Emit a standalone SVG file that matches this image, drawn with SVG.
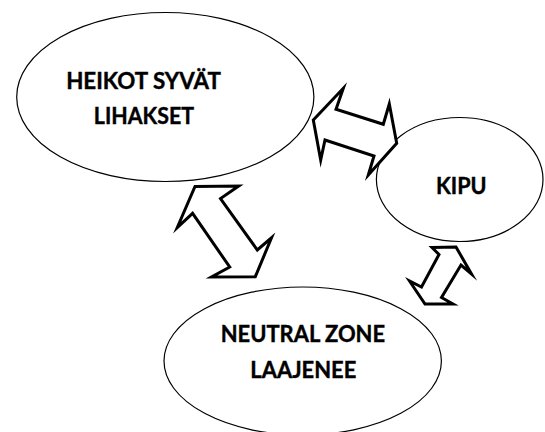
<svg xmlns="http://www.w3.org/2000/svg" width="545" height="432" viewBox="0 0 545 432">
  <style>
    .node ellipse { fill: #ffffff; stroke: #000000; stroke-width: 1.2; }
    .label { font-family: Lato, "Liberation Sans", sans-serif; font-weight: bold; font-size: 23px; fill: #000000; stroke: #000000; stroke-width: 0.4; text-anchor: middle; }
    .arrow { fill: #ffffff; stroke: #000000; stroke-width: 3; stroke-linejoin: miter; stroke-miterlimit: 10; }
  </style>
  <rect x="0" y="0" width="545" height="432" fill="#ffffff"/>
  <g id="heikot" class="node">
    <ellipse cx="165.3" cy="97" rx="148.6" ry="84.5"/>
    <text class="label" x="143.5" y="88.5" textLength="154.7" lengthAdjust="spacingAndGlyphs">HEIKOT SYVÄT</text>
    <text class="label" x="143.9" y="123.5" textLength="100.2" lengthAdjust="spacingAndGlyphs">LIHAKSET</text>
  </g>
  <g id="kipu" class="node">
    <ellipse cx="459.7" cy="179.5" rx="83.3" ry="62"/>
    <text class="label" x="461.3" y="194" textLength="50.6" lengthAdjust="spacingAndGlyphs">KIPU</text>
  </g>
  <g id="neutral" class="node">
    <ellipse cx="302.7" cy="361" rx="138.7" ry="74"/>
    <text class="label" x="302.9" y="341.5" textLength="164.4" lengthAdjust="spacingAndGlyphs">NEUTRAL ZONE</text>
    <text class="label" x="303.3" y="378" textLength="106" lengthAdjust="spacingAndGlyphs">LAAJENEE</text>
  </g>
  <g id="connectors">
    <polygon class="arrow" points="313.3,120 343.3,88.3 336,109.3 383.3,124.3 389.3,104 396.7,143.3 368.3,175 374,156 325,140 320.7,160"/>
    <polygon class="arrow" points="195,186.5 238.7,186 220.5,198.5 257.3,250 271.5,237.8 255.3,276.7 211.5,277 229.7,267 192.6,213.3 177.3,227.5"/>
    <polygon class="arrow" points="432,247.5 456,247 471.5,274 461,265 441.5,297.5 453,304 425,304 409.5,281 421.5,287 439,254.5"/>
  </g>
</svg>
